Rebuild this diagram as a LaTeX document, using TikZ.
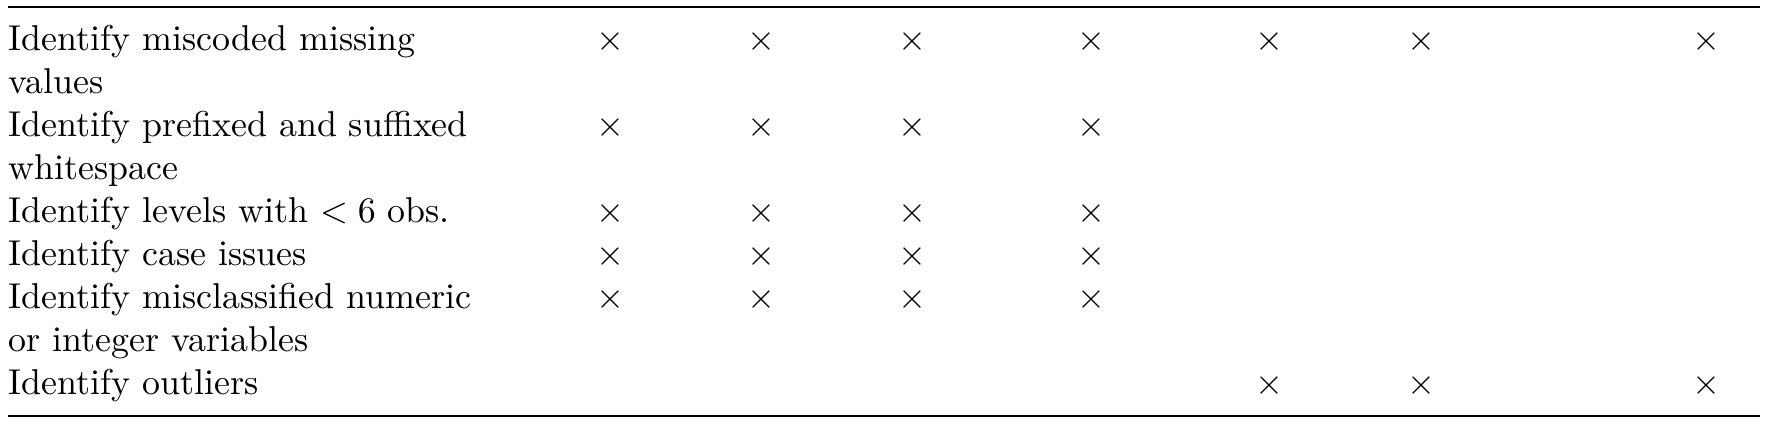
\documentclass[tikz,border=0pt]{standalone}
\begin{document}
\begin{tikzpicture}[x=0.2785pt,y=-0.2785pt,
  lbl/.style={anchor=base west,inner sep=0pt},
  mk/.style={anchor=base,inner sep=0pt}]
\useasboundingbox (0,0) rectangle (1774,431);
\draw[line width=0.5pt](8,7)--(1760,7);
\draw[line width=0.8pt](8,416)--(1760,416);
%
\node[lbl] (r1a) at (8,50) {Identify miscoded missing};
\node[lbl] (r1b) at (8,93.1) {values};
\node[lbl] (r2a) at (8,136.2) {Identify prefixed and suffixed};
\node[lbl] (r2b) at (8,179.3) {whitespace};
\node[lbl] (r3) at (8,222.4) {Identify levels with $<6$ obs.};
\node[lbl] (r4) at (8,265.5) {Identify case issues};
\node[lbl] (r5a) at (8,308.6) {Identify misclassified numeric};
\node[lbl] (r5b) at (8,351.7) {or integer variables};
\node[lbl] (r6) at (8,394.8) {Identify outliers};
%
\foreach \c/\x in {a/610,b/761,c/912,d/1091,e/1269,f/1421,g/1706}
  \node[mk] (m1\c) at (\x,50) {$\times$};
\foreach \r/\y in {2/136.2,3/222.4,4/265.5,5/308.6}
  \foreach \c/\x in {a/610,b/761,c/912,d/1091}
    \node[mk] (m\r\c) at (\x,\y) {$\times$};
\foreach \c/\x in {e/1269,f/1421,g/1706}
  \node[mk] (m6\c) at (\x,394.8) {$\times$};
\end{tikzpicture}
\end{document}
